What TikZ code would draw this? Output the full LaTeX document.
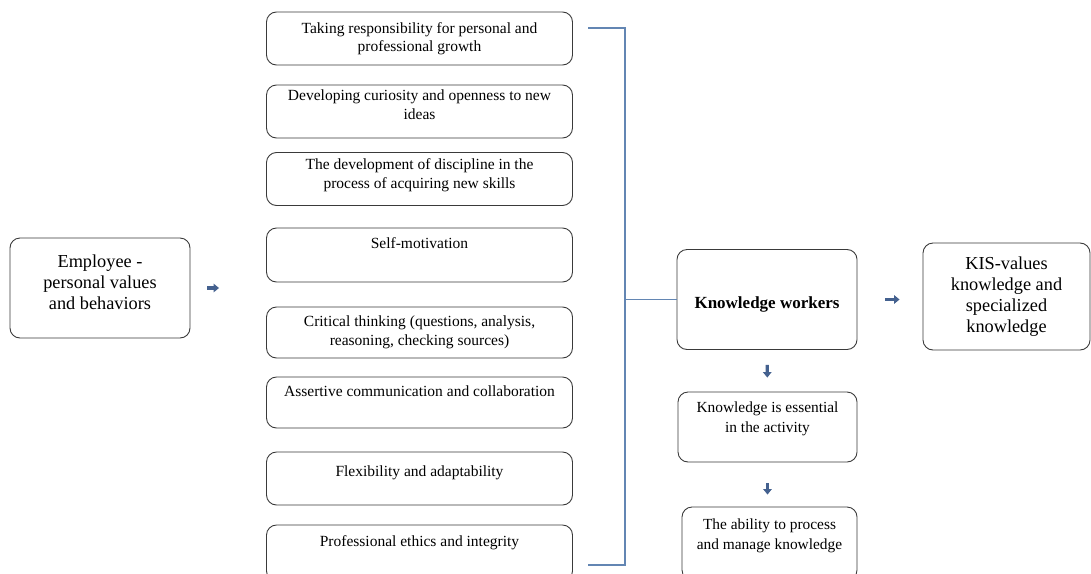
\documentclass[tikz,border=0pt]{standalone}
\usepackage{fontspec}
\setmainfont{Liberation Serif}
\usetikzlibrary{arrows.meta}
\definecolor{boxline}{HTML}{3A3A3A}
\definecolor{brk}{HTML}{6386B3}
\definecolor{arrblue}{HTML}{44618F}
\tikzset{
  box/.style={draw=boxline, line width=0.9pt, rounded corners=10pt, align=center, inner sep=2pt},
  item/.style={box, minimum width=306pt, minimum height=53pt, font=\fontsize{15.5}{18.5}\selectfont},
  big/.style={box, font=\fontsize{18.3}{21}\selectfont},
  mid/.style={box, font=\fontsize{15.4}{20}\selectfont},
  blk/.style={arrblue, line width=3.2pt, -{Triangle[length=5.5pt,width=8.5pt]}},
  brace/.style={brk, line width=1.1pt}
}
\begin{document}
\begin{tikzpicture}[x=1pt,y=-1pt]
\useasboundingbox (0,0) rectangle (1091,573);
% left
\node[big, minimum width=180pt, minimum height=100pt, text depth=11.5pt] (emp) at (100,288) {Employee -\\personal values\\and behaviors};
% list of values
\node[item] (r1) at (419.5,38.5) {Taking responsibility for personal and\\professional growth};
\node[item, text depth=14pt] (r2) at (419.5,111.5) {Developing curiosity and openness to new\\ideas};
\node[item, text depth=11pt] (r3) at (419.5,179) {The development of discipline in the\\process of acquiring new skills};
\node[item, minimum height=54pt, text depth=23pt] (r4) at (419.5,255) {Self-motivation};
\node[item, minimum height=51pt] (r5) at (419.5,332.5) {Critical thinking (questions, analysis,\\reasoning, checking sources)};
\node[item, minimum height=51pt, text depth=22pt] (r6) at (419.5,402.5) {Assertive communication and collaboration};
\node[item, text depth=14pt] (r7) at (419.5,478.5) {Flexibility and adaptability};
\node[item, minimum height=56pt, text depth=23pt] (r8) at (419.5,553) {Professional ethics and integrity};
% right
\node[box, minimum width=180pt, minimum height=100pt, text height=21pt, font=\bfseries\fontsize{17}{20}\selectfont] (kw) at (767,299.5) {Knowledge workers};
\node[big, minimum width=167pt, minimum height=107pt] (kis) at (1006.5,296.5) {KIS-values\\knowledge and\\specialized\\knowledge};
\node[mid, minimum width=179pt, minimum height=70pt, text depth=19pt] (ess) at (767.5,427) {Knowledge is essential\\in the activity};
\node[mid, minimum width=175pt, minimum height=73pt, text depth=18pt] (abl) at (769.5,543.5) {The ability to process\\and manage knowledge};
% bracket
\coordinate (btop) at (588,28);
\coordinate (bbot) at (588,565);
\coordinate (bmid) at (625,299.5);
\draw[brace] (btop) -| (625,565) -- (bbot);
\draw[brace] (bmid) -- (kw.west);
% arrows
\draw[blk, shorten <=17pt, shorten >=47pt] (emp.east) -- (emp.east -| r4.west);
\draw[blk, shorten <=28pt, shorten >=23pt] (kw.east) -- (kw.east -| kis.west);
\draw[blk, shorten <=15pt, shorten >=14pt] (kw.south) -- (ess.north);
\draw[blk, shorten <=21pt, shorten >=12pt] (ess.south) -- (ess.south |- abl.north);
\end{tikzpicture}
\end{document}
